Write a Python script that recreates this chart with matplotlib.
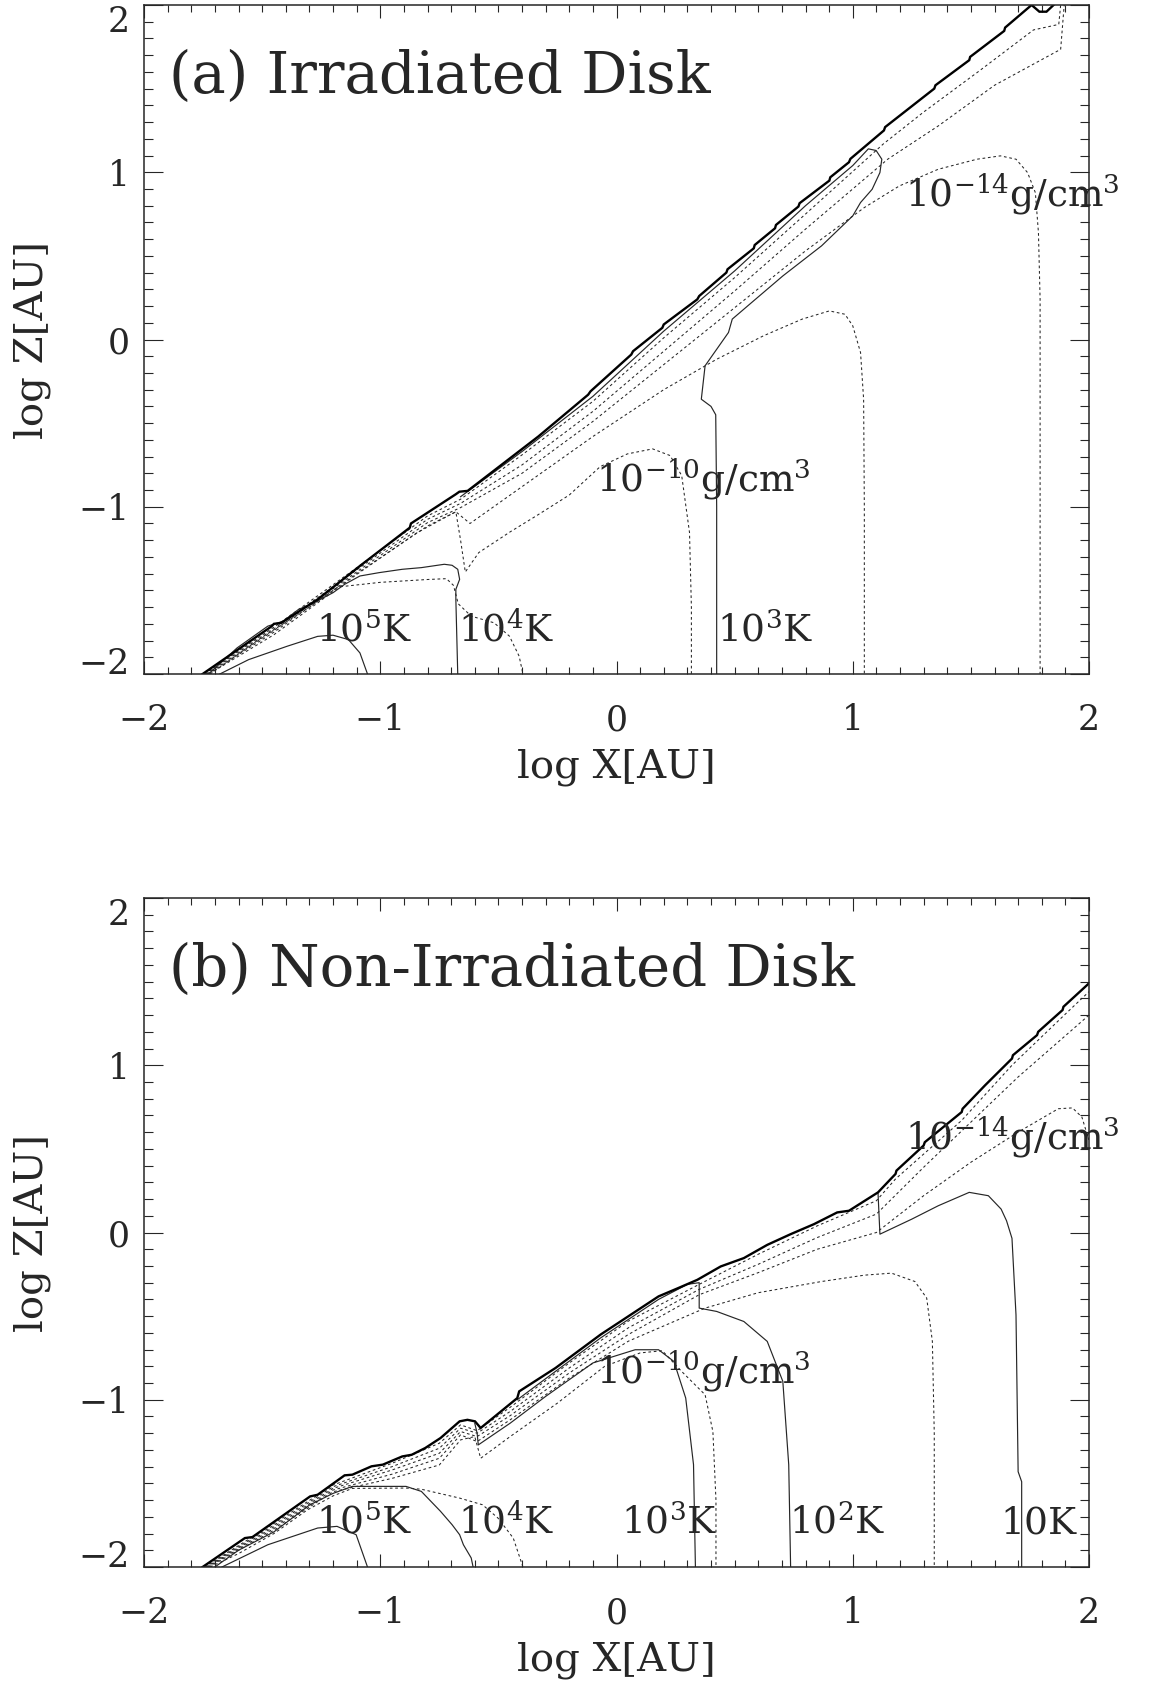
import matplotlib

matplotlib.use("Agg")
import matplotlib.pyplot as plt
from matplotlib.ticker import MultipleLocator


# ---- panel (a): irradiated disk, contour lines (log X, log Z) ----
A_SURFACE = [(-1.752, -2.0), (-1.46, -1.715), (-1.45, -1.70), (-1.42, -1.695), (-1.265, -1.554),
             (-1.086, -1.354), (-0.875, -1.125), (-0.87, -1.10), (-0.68, -0.925), (-0.665, -0.91),
             (-0.63, -0.905), (-0.331, -0.58), (-0.12, -0.33), (-0.11, -0.31), (0.0625, -0.09),
             (0.07, -0.07), (0.194, 0.07), (0.20, 0.09), (0.342, 0.24), (0.35, 0.26), (0.465, 0.40),
             (0.47, 0.42), (0.581, 0.545), (0.585, 0.565), (0.671, 0.665), (0.675, 0.685),
             (0.770, 0.795), (0.775, 0.815), (0.901, 0.95), (0.905, 0.97), (0.984, 1.06), (0.99, 1.08),
             (1.132, 1.25), (1.137, 1.27), (1.345, 1.50), (1.35, 1.52), (1.493, 1.67), (1.497, 1.69),
             (1.641, 1.845), (1.645, 1.865), (1.757, 2.0), (1.79, 1.96), (1.82, 1.96), (1.85, 2.0)]

A_T5 = [(-1.679, -2.0), (-1.557, -1.914), (-1.394, -1.834), (-1.265, -1.775), (-1.2, -1.768),
        (-1.135, -1.794), (-1.086, -1.874), (-1.054, -2.0)]
A_T4 = [(-1.727, -2.0), (-1.606, -1.844), (-1.476, -1.714), (-1.411, -1.684), (-1.346, -1.614),
        (-1.281, -1.574), (-1.2, -1.514), (-1.151, -1.464), (-1.086, -1.414), (-1.005, -1.394),
        (-0.907, -1.374), (-0.826, -1.364), (-0.729, -1.344), (-0.696, -1.35), (-0.672, -1.374),
        (-0.664, -1.434), (-0.68, -1.494), (-0.68, -1.554), (-0.672, -2.0)]
A_T3 = [(-0.66, -0.94), (-0.40, -0.67), (-0.10, -0.34), (0.20, 0.05), (0.50, 0.41), (0.80, 0.80),
        (1.0, 1.04), (1.066, 1.14), (1.099, 1.13), (1.123, 1.078), (1.115, 0.998), (1.082, 0.898),
        (1.033, 0.819), (1.0, 0.739), (0.868, 0.56), (0.704, 0.38), (0.572, 0.221), (0.49, 0.122),
        (0.474, 0.042), (0.375, -0.157), (0.359, -0.357), (0.40, -0.40), (0.42, -0.45),
        (0.424, -1.0), (0.424, -2.0)]

A_RHO18 = [(-1.745, -2.0), (-1.45, -1.72), (-1.10, -1.365), (-0.80, -1.055), (-0.66, -0.955),
           (-0.40, -0.69), (-0.10, -0.37), (0.20, 0.01), (0.50, 0.37), (0.80, 0.75), (1.13, 1.17),
           (1.30, 1.36), (1.53, 1.60), (1.765, 1.851), (1.872, 1.884), (1.88, 2.0)]
A_RHO16 = [(-1.74, -2.0), (-1.45, -1.73), (-1.10, -1.378), (-0.80, -1.075), (-0.66, -0.98),
           (-0.40, -0.75), (-0.10, -0.43), (0.20, -0.07), (0.50, 0.29), (0.80, 0.66), (1.148, 1.078),
           (1.362, 1.277), (1.60, 1.52), (1.88, 1.735), (1.895, 2.0)]
A_RHO14 = [(-1.735, -2.0), (-1.45, -1.74), (-1.10, -1.39), (-0.80, -1.095), (-0.66, -1.005),
           (-0.40, -0.80), (-0.10, -0.49), (0.20, -0.15), (0.50, 0.19), (0.80, 0.53), (1.049, 0.789),
           (1.197, 0.918), (1.362, 1.018), (1.526, 1.078), (1.625, 1.098), (1.691, 1.078),
           (1.74, 0.998), (1.773, 0.878), (1.786, 0.639), (1.793, 0.241), (1.793, -2.0)]
A_RHO12 = [(-1.73, -2.0), (-1.45, -1.75), (-1.10, -1.40), (-0.80, -1.115), (-0.68, -1.03),
           (-0.62, -1.10), (-0.40, -0.88), (-0.10, -0.58), (0.20, -0.30), (0.424, -0.118),
           (0.622, 0.022), (0.786, 0.122), (0.901, 0.171), (0.967, 0.151), (1.0, 0.082),
           (1.033, -0.078), (1.046, -0.357), (1.049, -1.0), (1.049, -2.0)]
A_RHO10 = [(-1.725, -2.0), (-1.45, -1.765), (-1.10, -1.405), (-0.85, -1.16), (-0.72, -1.06),
           (-0.68, -1.03), (-0.66, -1.2), (-0.64, -1.39), (-0.583, -1.274), (-0.45, -1.15),
           (-0.339, -1.054), (-0.2, -0.93), (-0.069, -0.76), (0.046, -0.684), (0.153, -0.654),
           (0.227, -0.694), (0.276, -0.814), (0.309, -1.154), (0.317, -1.6), (0.317, -2.0)]
A_RHO8 = [(-1.72, -2.0), (-1.50, -1.78), (-1.30, -1.60), (-1.18, -1.48), (-1.0, -1.452),
          (-0.80, -1.435), (-0.72, -1.43), (-0.69, -1.47), (-0.67, -1.58), (-0.615, -1.654),
          (-0.518, -1.694), (-0.453, -1.774), (-0.412, -1.894), (-0.396, -2.0)]

A_LABELS = [(r"$10^{-14}$g/cm$^3$", 1.222, 0.80), (r"$10^{-10}$g/cm$^3$", -0.086, -0.904),
            (r"$10^5$K", -1.273, -1.804), (r"$10^4$K", -0.672, -1.804), (r"$10^3$K", 0.424, -1.804)]

# ---- panel (b): non-irradiated disk ----
B_SURFACE = [(-1.752, -2.0), (-1.573, -1.827), (-1.541, -1.821), (-1.297, -1.578), (-1.265, -1.568),
             (-1.151, -1.452), (-1.118, -1.448), (-1.037, -1.398), (-0.989, -1.388), (-0.907, -1.339),
             (-0.867, -1.329), (-0.81, -1.289), (-0.745, -1.229), (-0.664, -1.129), (-0.631, -1.12),
             (-0.599, -1.129), (-0.575, -1.169), (-0.42, -0.99), (-0.412, -0.95), (-0.258, -0.81),
             (-0.067, -0.61), (0.178, -0.382), (0.26, -0.333), (0.342, -0.283), (0.441, -0.203),
             (0.539, -0.153), (0.638, -0.074), (0.737, -0.01), (0.836, 0.05), (0.934, 0.12),
             (0.984, 0.13), (1.107, 0.24), (1.181, 0.35), (1.185, 0.37), (1.30, 0.52), (1.305, 0.54),
             (1.461, 0.72), (1.465, 0.74), (1.56, 0.88), (1.674, 1.04), (1.678, 1.06), (1.78, 1.18),
             (1.785, 1.20), (1.888, 1.33), (1.892, 1.35), (2.0, 1.49)]

B_T5 = [(-1.670, -2.0), (-1.476, -1.867), (-1.265, -1.767), (-1.183, -1.757), (-1.102, -1.807),
        (-1.054, -2.0)]
B_T4 = [(-1.70, -2.0), (-1.6, -1.90), (-1.45, -1.79), (-1.3, -1.63), (-1.2, -1.56), (-1.118, -1.518),
        (-0.891, -1.518), (-0.826, -1.548), (-0.745, -1.667), (-0.696, -1.747), (-0.664, -1.807),
        (-0.648, -1.867), (-0.615, -1.946), (-0.607, -2.0)]
B_T3 = [(-0.60, -1.14), (-0.59, -1.20), (-0.585, -1.27), (-0.45, -1.14), (-0.30, -0.98),
        (-0.10, -0.78), (0.079, -0.701), (0.178, -0.701), (0.243, -0.771), (0.293, -0.99),
        (0.326, -1.388), (0.334, -2.0)]
B_T2 = [(-0.42, -1.0), (-0.258, -0.83), (-0.067, -0.63), (0.178, -0.40), (0.30, -0.31), (0.35, -0.30),
        (0.35, -0.452), (0.424, -0.472), (0.539, -0.532), (0.638, -0.651), (0.704, -0.89),
        (0.729, -1.388), (0.737, -2.0)]
B_T1 = [(1.107, 0.235), (1.115, -0.01), (1.25, 0.08), (1.362, 0.16), (1.493, 0.24), (1.574, 0.22),
        (1.628, 0.14), (1.651, 0.07), (1.674, -0.035), (1.691, -0.493), (1.70, -1.43), (1.715, -1.49),
        (1.715, -2.0)]

B_RHO18 = [(-1.745, -2.0), (-1.45, -1.74), (-1.20, -1.51), (-0.95, -1.38), (-0.75, -1.26), (-0.66, -1.15),
           (-0.59, -1.185), (-0.45, -1.045), (-0.20, -0.78), (0.05, -0.53), (0.35, -0.31), (0.60, -0.13),
           (0.85, 0.04), (1.10, 0.19), (1.181, 0.32), (1.461, 0.67), (1.674, 1.00), (1.888, 1.29),
           (2.0, 1.44)]
B_RHO16 = [(-1.74, -2.0), (-1.45, -1.75), (-1.20, -1.52), (-0.95, -1.40), (-0.75, -1.29), (-0.66, -1.17),
           (-0.59, -1.20), (-0.45, -1.07), (-0.20, -0.81), (0.05, -0.57), (0.35, -0.34), (0.60, -0.19),
           (0.85, -0.03), (1.10, 0.11), (1.30, 0.39), (1.50, 0.66), (1.70, 0.93), (2.0, 1.30)]
B_RHO14 = [(-1.735, -2.0), (-1.45, -1.76), (-1.20, -1.53), (-0.95, -1.42), (-0.75, -1.32), (-0.66, -1.19),
           (-0.59, -1.22), (-0.45, -1.095), (-0.20, -0.84), (0.05, -0.61), (0.35, -0.372), (0.60, -0.24),
           (0.85, -0.10), (1.10, 0.0), (1.30, 0.22), (1.50, 0.42), (1.70, 0.60), (1.87, 0.74),
           (1.93, 0.745), (1.97, 0.69), (2.0, 0.55)]
B_RHO12 = [(-1.73, -2.0), (-1.45, -1.77), (-1.20, -1.54), (-0.95, -1.445), (-0.75, -1.35), (-0.66, -1.21),
           (-0.59, -1.25), (-0.45, -1.12), (-0.20, -0.87), (0.05, -0.65), (0.375, -0.452), (0.6, -0.36),
           (0.868, -0.293), (1.05, -0.255), (1.164, -0.243), (1.263, -0.293), (1.313, -0.392),
           (1.337, -0.651), (1.345, -1.2), (1.345, -2.0)]
B_RHO10 = [(-1.725, -2.0), (-1.45, -1.78), (-1.20, -1.55), (-0.95, -1.47), (-0.75, -1.39), (-0.66, -1.24),
           (-0.60, -1.22), (-0.575, -1.35), (-0.45, -1.22), (-0.25, -1.02), (-0.05, -0.80), (0.10, -0.72),
           (0.194, -0.707), (0.276, -0.831), (0.375, -0.97), (0.408, -1.19), (0.421, -1.6), (0.421, -2.0)]
B_RHO8 = [(-1.72, -2.0), (-1.60, -1.92), (-1.45, -1.80), (-1.31, -1.66), (-1.2, -1.575), (-1.118, -1.53),
          (-0.891, -1.528), (-0.826, -1.535), (-0.664, -1.588), (-0.567, -1.628), (-0.502, -1.707),
          (-0.437, -1.827), (-0.396, -2.0)]

B_LABELS = [(r"$10^{-14}$g/cm$^3$", 1.222, 0.50), (r"$10^{-10}$g/cm$^3$", -0.086, -0.90),
            (r"$10^5$K", -1.273, -1.797), (r"$10^4$K", -0.672, -1.797), (r"$10^3$K", 0.021, -1.797),
            (r"$10^2$K", 0.729, -1.797), (r"$10$K", 1.625, -1.797)]

AXIS_TICKS = [-2, -1, 0, 1, 2]

INK = "#262626"
DASH = (0, (2.6, 2.6))


def xy(points):
    return [p[0] for p in points], [p[1] for p in points]


def draw_panel(ax, surface, temps, dens, labels, title):
    for line in dens:
        ax.plot(*xy(line), color=INK, lw=0.75, linestyle=DASH)
    for line in temps:
        ax.plot(*xy(line), color=INK, lw=0.85)
    ax.plot(*xy(surface), color="black", lw=1.7, solid_joinstyle="miter")

    for text, x, y in labels:
        ax.text(x, y, text, fontsize=27, color=INK, ha="left", va="baseline", clip_on=False)

    ax.set_xlim(-2, 2)
    ax.set_ylim(-2, 2)
    ax.set_xticks(AXIS_TICKS)
    ax.set_yticks(AXIS_TICKS)
    ax.xaxis.set_minor_locator(MultipleLocator(0.1))
    ax.yaxis.set_minor_locator(MultipleLocator(0.1))
    ax.tick_params(which="both", direction="in", top=True, right=True, width=0.8, colors=INK,
                   labelsize=25, labelcolor=INK)
    ax.xaxis.set_tick_params(which="major", length=9.6, pad=21)
    ax.xaxis.set_tick_params(which="minor", length=4.8)
    ax.yaxis.set_tick_params(which="major", length=13.7, pad=10)
    ax.yaxis.set_tick_params(which="minor", length=6.8)
    for spine in ax.spines.values():
        spine.set_linewidth(1.1)
        spine.set_color(INK)

    # IDL pulls the end labels of the y axis inside the frame
    ylabels = ax.get_yticklabels()
    ylabels[0].set_verticalalignment("baseline")
    ylabels[-1].set_verticalalignment("top")

    ax.text(0.5, -0.139, "log X[AU]", transform=ax.transAxes, fontsize=29, color=INK,
            ha="center", va="center")
    ax.text(-0.1185, 0.5, "log Z[AU]", transform=ax.transAxes, fontsize=29, color=INK,
            ha="center", va="center", rotation=90)
    ax.text(0.026, 0.893, title, transform=ax.transAxes, fontsize=41.5, color=INK,
            ha="left", va="center")


def main():
    plt.rcParams["font.family"] = "DejaVu Serif"
    plt.rcParams["mathtext.fontset"] = "dejavuserif"

    fig = plt.figure(figsize=(11.57, 16.85), dpi=100, facecolor="white")
    ax_a = fig.add_axes([0.12446, 0.6, 0.81677, 0.39703])
    ax_b = fig.add_axes([0.12446, 0.07003, 0.81677, 0.39703])

    draw_panel(ax_a, A_SURFACE, [A_T5, A_T4, A_T3],
               [A_RHO18, A_RHO16, A_RHO14, A_RHO12, A_RHO10, A_RHO8],
               A_LABELS, "(a) Irradiated Disk")
    draw_panel(ax_b, B_SURFACE, [B_T5, B_T4, B_T3, B_T2, B_T1],
               [B_RHO18, B_RHO16, B_RHO14, B_RHO12, B_RHO10, B_RHO8],
               B_LABELS, "(b) Non-Irradiated Disk")

    fig.savefig("out.png", dpi=100, facecolor="white")
    plt.close(fig)


if __name__ == "__main__":
    main()
